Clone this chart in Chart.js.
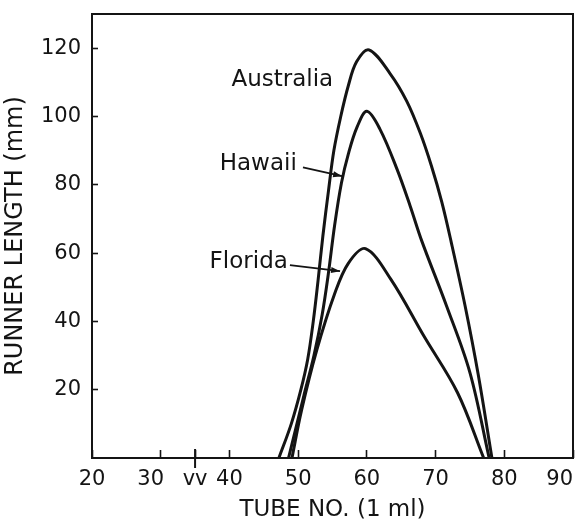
<!DOCTYPE html>
<html><head><meta charset="utf-8">
<script src="https://cdn.jsdelivr.net/npm/chart.js@4/dist/chart.umd.min.js"></script>
<style>html,body{margin:0;padding:0;background:#fff;overflow:hidden}</style>
</head><body>
<canvas id="c" width="577" height="525"></canvas>
<script>
// ---- data ----
const seriesNames = ['Australia', 'Hawaii', 'Florida'];
const australiaX = [47.2, 49.0, 50.4, 51.4, 52.2, 52.9, 53.6, 54.4, 55.2, 56.2, 57.3, 58.5, 60.3, 63.4, 65.8, 67.8, 69.4, 70.9, 72.3, 74.3, 76.2, 78.2];
const australiaY = [0, 10, 20, 29, 40, 52, 65, 78, 90, 100, 109, 116, 119.5, 112.5, 104.5, 95, 85.5, 75, 63, 44.5, 24.5, 0];
const hawaiiX = [48.6, 50.8, 52.3, 53.5, 54.4, 55.3, 56.3, 57.3, 58.6, 60.0, 61.9, 64.4, 66.3, 68.0, 71.6, 75.0, 77.8];
const hawaiiY = [0, 18, 30, 42, 54, 68, 80.5, 89, 97, 101.5, 96.3, 84.5, 73.8, 63.5, 44.5, 25, 0];
const floridaX = [49.1, 50.5, 52.7, 55.3, 57.3, 59.8, 63.5, 68.3, 73.2, 77.0];
const floridaY = [0, 14, 31.5, 48, 57, 61.3, 52.3, 35.7, 19.1, 0];
const xTickValues = [20, 30, 35, 40, 50, 60, 70, 80, 90];
const xTickLabels = ['20', '30', 'vv', '40', '50', '60', '70', '80', '90'];
const yTickValues = [20, 40, 60, 80, 100, 120];
const yTickLabels = ['20', '40', '60', '80', '100', '120'];
const xTitle = 'TUBE NO. (1 ml)';
const yTitle = 'RUNNER LENGTH (mm)';
const axisBreakValue = 35;

// ---- annotation layout (data coordinates) ----
const labelLayout = [
  { text: 'Australia', x: 55.1, y: 110.6, arrow: null },
  { text: 'Hawaii', x: 49.8, y: 86.0, arrow: [[50.7, 85.1], [56.4, 82.5]] },
  { text: 'Florida', x: 48.5, y: 57.3, arrow: [[48.8, 56.5], [56.1, 54.7]] }
];
const labelNudge = { 30: 3, 90: 4 }; // trailing spaces to shift label left

const INK = '#141414';
Chart.defaults.font.family = '"DejaVu Sans", sans-serif';
Chart.defaults.color = INK;

function pts(xs, ys) { return xs.map((x, i) => ({ x: x, y: ys[i] })); }
const seriesData = [pts(australiaX, australiaY), pts(hawaiiX, hawaiiY), pts(floridaX, floridaY)];

const decor = {
  id: 'decor',
  afterDatasetsDraw(chart) {
    const { ctx, chartArea: a, scales: { x, y } } = chart;
    ctx.save();
    ctx.strokeStyle = INK;
    ctx.lineWidth = 2;
    ctx.strokeRect(a.left, a.top, a.right - a.left, a.bottom - a.top);
    const bx = x.getPixelForValue(axisBreakValue);
    ctx.beginPath(); ctx.moveTo(bx, a.bottom - 9); ctx.lineTo(bx, a.bottom + 10); ctx.stroke();
    ctx.font = '23px "DejaVu Sans"';
    ctx.fillStyle = INK;
    ctx.textAlign = 'right';
    ctx.textBaseline = 'middle';
    for (const L of labelLayout) {
      ctx.fillText(L.text, x.getPixelForValue(L.x), y.getPixelForValue(L.y));
      if (L.arrow) {
        const x0 = x.getPixelForValue(L.arrow[0][0]), y0 = y.getPixelForValue(L.arrow[0][1]);
        const x1 = x.getPixelForValue(L.arrow[1][0]), y1 = y.getPixelForValue(L.arrow[1][1]);
        ctx.lineWidth = 1.8;
        ctx.beginPath(); ctx.moveTo(x0, y0); ctx.lineTo(x1, y1); ctx.stroke();
        const ang = Math.atan2(y1 - y0, x1 - x0), h = 9, w = 3;
        ctx.beginPath();
        ctx.moveTo(x1, y1);
        ctx.lineTo(x1 - h * Math.cos(ang) + w * Math.sin(ang), y1 - h * Math.sin(ang) - w * Math.cos(ang));
        ctx.lineTo(x1 - h * Math.cos(ang) - w * Math.sin(ang), y1 - h * Math.sin(ang) + w * Math.cos(ang));
        ctx.closePath(); ctx.fill();
      }
    }
    ctx.restore();
  }
};

new Chart(document.getElementById('c'), {
  type: 'line',
  data: {
    datasets: seriesNames.map((n, i) => ({
      label: n,
      data: seriesData[i],
      borderColor: INK,
      borderWidth: 3,
      pointRadius: 0,
      fill: false,
      tension: 0.35
    }))
  },
  options: {
    responsive: false,
    animation: false,
    layout: { padding: { top: 14, right: 4, left: 0, bottom: 0 } },
    plugins: { legend: { display: false }, tooltip: { enabled: false } },
    scales: {
      x: {
        type: 'linear', min: 20, max: 90,
        afterBuildTicks: s => { s.ticks = xTickValues.map(v => ({ value: v })); },
        afterFit: s => { s.height = 67; s.paddingLeft = 0; s.paddingRight = 0; },
        border: { display: false },
        grid: { drawOnChartArea: false, drawTicks: true, tickLength: -8, tickColor: INK, tickWidth: 1.6 },
        ticks: {
          font: { size: 21 }, padding: 17, maxRotation: 0, autoSkip: false,
          callback: v => {
            const i = xTickValues.indexOf(v);
            const t = i >= 0 ? xTickLabels[i] : '';
            return t + ' '.repeat(labelNudge[v] || 0);
          }
        },
        title: { display: true, text: xTitle, font: { size: 23 }, padding: 1 }
      },
      y: {
        type: 'linear', min: 0, max: 130,
        afterBuildTicks: s => { s.ticks = yTickValues.map(v => ({ value: v })); },
        afterFit: s => { s.width = 92; s.paddingTop = 0; s.paddingBottom = 0; },
        border: { display: false },
        grid: { drawOnChartArea: false, drawTicks: true, tickLength: -6, tickColor: INK, tickWidth: 1.6 },
        ticks: {
          font: { size: 21 }, padding: 17, autoSkip: false,
          callback: v => { const i = yTickValues.indexOf(v); return i >= 0 ? yTickLabels[i] : ''; }
        },
        title: { display: true, text: yTitle, font: { size: 24 }, padding: 1 }
      }
    }
  },
  plugins: [decor]
});
</script>
</body></html>
